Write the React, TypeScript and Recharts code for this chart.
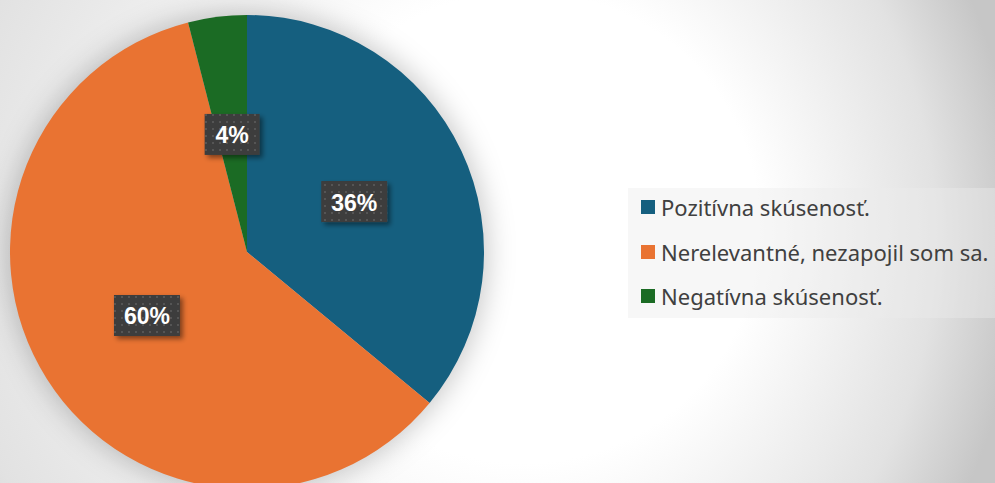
import { PieChart, Pie, Cell, Legend } from "recharts";

const categories = ["Pozitívna skúsenosť.", "Nerelevantné, nezapojil som sa.", "Negatívna skúsenosť."];
const shares = [36, 60, 4];
const colors = ["#155f7f", "#e97332", "#1b6b24"];

const data = categories.map((name, i) => ({ name, value: shares[i] }));
const shadowData = [{ name: "shadow", value: shares.reduce((a, b) => a + b, 0) }];

const RAD = Math.PI / 180;

// dark dotted label boxes, placed half way out along each slice
function renderLabel(props: any) {
  const { cx, cy, midAngle, outerRadius, percent } = props;
  const r = outerRadius * 0.5;
  const x = cx + r * Math.cos(-midAngle * RAD);
  const y = cy + r * Math.sin(-midAngle * RAD);
  const text = `${Math.round(percent * 100)}%`;
  const w = 33 + 11 * text.length;
  const h = 41;
  return (
    <g>
      <rect x={x - w / 2} y={y - h / 2} width={w} height={h} fill="url(#dots)" filter="url(#boxShadow)" />
      <text
        x={x}
        y={y + 1}
        fill="#ffffff"
        textAnchor="middle"
        dominantBaseline="central"
        fontFamily="'Liberation Sans', Arial, sans-serif"
        fontWeight={700}
        fontSize={23}
      >
        {text}
      </text>
    </g>
  );
}

function LegendBox() {
  return (
    <div
      style={{
        position: "relative",
        width: 367,
        height: 130,
        background: "rgba(235,235,235,0.41)",
        fontFamily: "'Noto Sans', 'Open Sans', sans-serif",
        fontSize: 22,
        color: "#404040",
      }}
    >
      {categories.map((c, i) => (
        <div
          key={c}
          style={{
            position: "absolute",
            left: 13,
            top: 19 + i * 44.5 - 15,
            height: 30,
            display: "flex",
            alignItems: "center",
            whiteSpace: "nowrap",
          }}
        >
          <span style={{ width: 14, height: 14, background: colors[i], marginRight: 6, display: "inline-block" }} />
          <span>{c}</span>
        </div>
      ))}
    </div>
  );
}

export default function App() {
  return (
    <div style={{ position: "absolute", left: 0, top: 0, width: 995, height: 483, overflow: "hidden" }}>
      <svg width={995} height={483} style={{ position: "absolute", left: 0, top: 0 }}>
        <defs>
          <radialGradient id="bg" gradientUnits="userSpaceOnUse" cx={400} cy={240} r={620} fx={600} fy={220}>
            <stop offset="0" stopColor="#ffffff" />
            <stop offset="0.38" stopColor="#ffffff" />
            <stop offset="0.8" stopColor="#e2e2e2" />
            <stop offset="1" stopColor="#c6c6c6" />
          </radialGradient>
          <pattern id="dots" patternUnits="userSpaceOnUse" width={7} height={7}>
            <rect width={7} height={7} fill="#3d3d3d" />
            <rect x={2} y={2} width={2} height={2} fill="#555555" />
          </pattern>
          <filter id="boxShadow" x="-30%" y="-30%" width="160%" height="160%">
            <feDropShadow dx={3} dy={3} stdDeviation={2.5} floodColor="#000" floodOpacity={0.45} />
          </filter>
          <filter id="pieGlow" x="-30%" y="-30%" width="160%" height="160%">
            <feGaussianBlur stdDeviation={14} />
          </filter>
        </defs>
        <rect width={995} height={483} fill="url(#bg)" />
      </svg>
      <div style={{ position: "absolute", left: 0, top: 0 }}>
        <PieChart width={995} height={483} margin={{ top: 0, right: 0, bottom: 0, left: 0 }}>
          <Pie
            data={shadowData}
            dataKey="value"
            cx={247}
            cy={252}
            outerRadius={240}
            startAngle={90}
            endAngle={-270}
            stroke="none"
            legendType="none"
            isAnimationActive={false}
          >
            <Cell fill="#000000" fillOpacity={0.22} filter="url(#pieGlow)" />
          </Pie>
          <Pie
            data={data}
            dataKey="value"
            nameKey="name"
            cx={247}
            cy={252}
            outerRadius={237}
            startAngle={90}
            endAngle={-270}
            stroke="none"
            label={renderLabel}
            labelLine={false}
            isAnimationActive={false}
          >
            {data.map((d, i) => (
              <Cell key={d.name} fill={colors[i]} />
            ))}
          </Pie>
          <Legend
            layout="vertical"
            align="right"
            verticalAlign="middle"
            wrapperStyle={{ position: "absolute", left: 628, top: 188, width: 367, height: 130 }}
            content={() => <LegendBox />}
          />
        </PieChart>
      </div>
    </div>
  );
}
